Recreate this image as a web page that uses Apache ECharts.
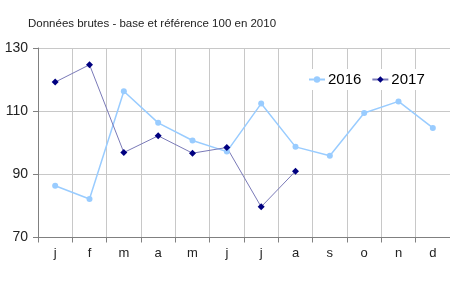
<!DOCTYPE html>
<html><head><meta charset="utf-8">
<script src="https://cdn.jsdelivr.net/npm/echarts@6/dist/echarts.min.js"></script>
<style>html,body{margin:0;padding:0;background:#fff}#c{width:450px;height:291px}</style>
</head><body><div id="c"></div>
<script>
const months = ['j','f','m','a','m','j','j','a','s','o','n','d'];
const s2016 = [86.4, 82.2, 116.3, 106.3, 100.7, 97.2, 112.4, 98.7, 95.9, 109.4, 113.1, 104.7];
const s2017 = [119.2, 124.7, 96.9, 102.2, 96.7, 98.5, 79.7, 91.0];
const yTicks = [70, 90, 110, 130];
const title = 'Données brutes - base et référence 100 en 2010';

const chart = echarts.init(document.getElementById('c'));
chart.setOption({
  animation: false,
  backgroundColor: '#fff',
  textStyle: {fontFamily: 'Liberation Sans, Arial, sans-serif'},
  title: {text: title, left: 23, top: 13,
    textStyle: {fontSize: 11.5, fontWeight: 'normal', color: '#222', fontFamily: 'Liberation Sans, Arial, sans-serif'}},
  legend: {
    orient: 'horizontal', width: 140,
    data: ['2016', '2017'], left: 304, top: 69, itemGap: 10, itemWidth: 16, itemHeight: 8,
    backgroundColor: '#fff', padding: [3, 4, 3, 4],
    textStyle: {fontSize: 15, color: '#000', padding: [0, 0, 0, -2], fontFamily: 'Liberation Sans, Arial, sans-serif'}
  },
  grid: {left: 38, top: 48, width: 422, height: 189.5, containLabel: false},
  xAxis: {
    type: 'category', data: months, boundaryGap: true,
    axisLine: {lineStyle: {color: '#808080', width: 1}},
    axisTick: {show: true, length: 5, lineStyle: {color: '#808080'}},
    axisLabel: {fontSize: 13, color: '#222', margin: 9},
    splitLine: {show: true, lineStyle: {color: '#c8c8c8', width: 1}}
  },
  yAxis: {
    type: 'value', min: 70, max: 130, interval: 20,
    axisLine: {show: true, lineStyle: {color: '#808080'}},
    axisTick: {show: true, length: 5, lineStyle: {color: '#808080'}},
    axisLabel: {fontSize: 14, color: '#222', margin: 10,
      formatter: v => yTicks.includes(v) ? String(v) : ''},
    splitLine: {show: true, lineStyle: {color: '#c8c8c8', width: 1}}
  },
  series: [
    {name: '2016', type: 'line', data: s2016, symbol: 'circle', symbolSize: 6,
     lineStyle: {color: '#99ccff', width: 1.5}, itemStyle: {color: '#99ccff'}},
    {name: '2017', type: 'line', data: s2017, symbol: 'diamond', symbolSize: 7,
     lineStyle: {color: '#7a7ab8', width: 1}, itemStyle: {color: '#000080'}}
  ]
});
</script></body></html>
